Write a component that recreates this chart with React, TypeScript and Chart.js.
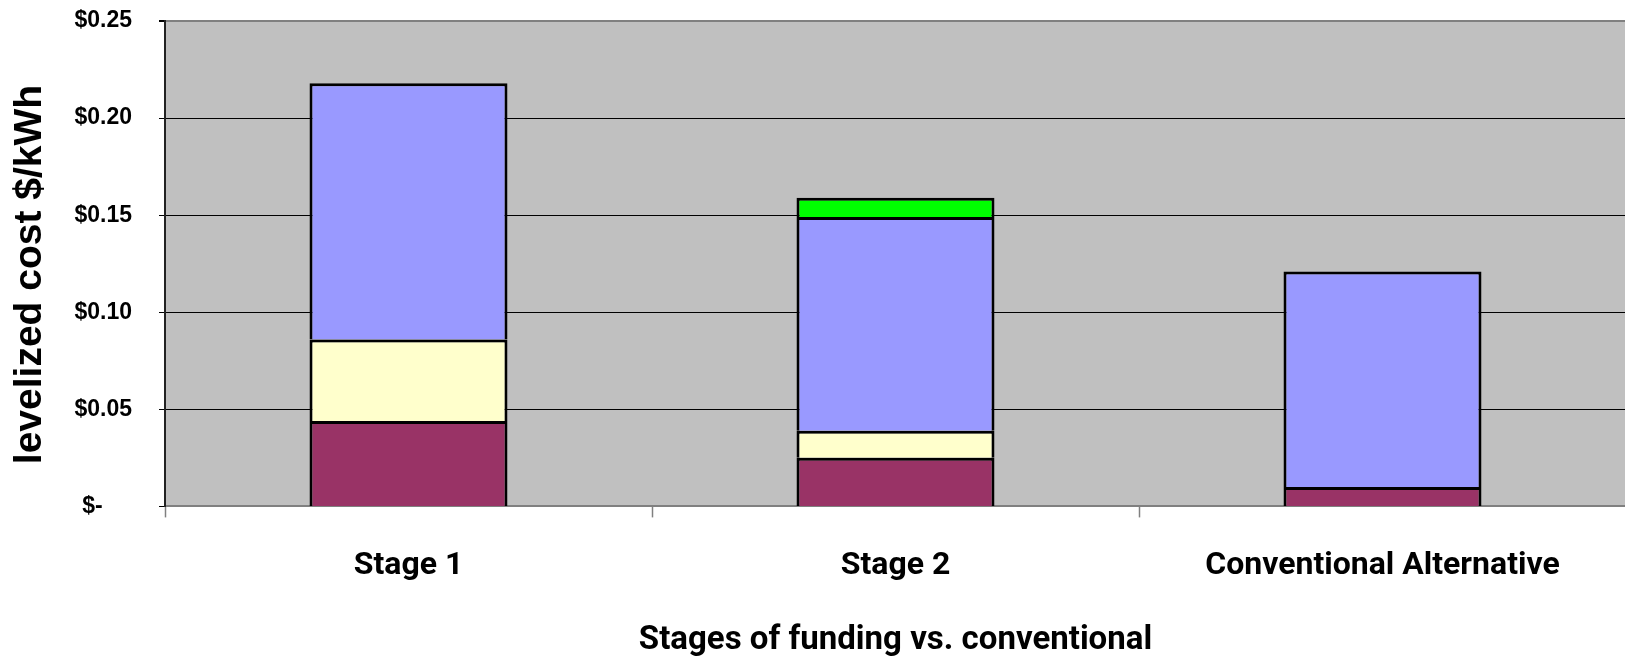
import React, { useEffect, useRef } from "react";
import { Chart, registerables } from "chart.js";

Chart.register(...registerables);

const categories = ["Stage 1", "Stage 2", "Conventional Alternative"];
const maroonValues = [0.044, 0.025, 0.01];
const yellowValues = [0.042, 0.014, null];
const blueValues = [0.132, 0.11, 0.111];
const greenValues = [null, 0.01, null];
const yTicks = [0, 0.05, 0.1, 0.15, 0.2, 0.25];

const yTitle = "levelized cost $/kWh";
const xTitle = "Stages of funding vs. conventional";

const NARROW = "Roboto, 'Liberation Sans', sans-serif";
const WIDE = "'Liberation Sans', Arial, sans-serif";

const plotBg = {
  id: "plotBg",
  beforeDraw(chart: any) {
    const { ctx, chartArea } = chart;
    ctx.save();
    ctx.fillStyle = "#C0C0C0";
    ctx.fillRect(chartArea.left, chartArea.top, chartArea.right - chartArea.left, chartArea.bottom - chartArea.top);
    ctx.restore();
  },
};

export default function App() {
  const ref = useRef<HTMLCanvasElement | null>(null);
  useEffect(() => {
    if (!ref.current) return;
    const ds = (label: string, data: any[], color: string) => ({
      label,
      data,
      backgroundColor: color,
      borderColor: "#000000",
      borderWidth: 3,
      barPercentage: 0.4066,
      categoryPercentage: 1,
    });
    const chart = new Chart(ref.current, {
      type: "bar",
      data: {
        labels: categories,
        datasets: [
          ds("Series 1", maroonValues, "#993366"),
          ds("Series 2", yellowValues, "#FFFFCC"),
          ds("Series 3", blueValues, "#9999FF"),
          ds("Series 4", greenValues, "#00FF00"),
        ],
      },
      options: {
        animation: false,
        responsive: true,
        maintainAspectRatio: false,
        layout: { padding: { top: 21, right: 0, left: 0, bottom: 0 } },
        plugins: {
          legend: { display: false },
          tooltip: { enabled: false },
          title: {
            display: true,
            position: "bottom",
            fullSize: false,
            text: xTitle,
            color: "#000",
            font: { family: NARROW, size: 33, weight: "bold" },
            padding: { top: 0, bottom: 3 },
          },
        },
        scales: {
          x: {
            stacked: true,
            afterFit: (s: any) => {
              s.height = 115;
              s.paddingLeft = 0;
              s.paddingRight = 88;
            },
            grid: {
              display: true,
              offset: true,
              drawOnChartArea: false,
              drawTicks: true,
              tickLength: 11,
              tickColor: "#808080",
              tickWidth: 1.5,
            },
            border: { display: true, color: "#808080", width: 2 },
            ticks: {
              color: "#000",
              padding: 29,
              font: { family: NARROW, size: 32, weight: "bold" },
              maxRotation: 0,
              autoSkip: false,
            },
          },
          y: {
            stacked: true,
            min: 0,
            max: 0.25,
            afterFit: (s: any) => {
              s.width = 165;
              s.paddingTop = 0;
              s.paddingBottom = 0;
            },
            afterBuildTicks: (s: any) => {
              s.ticks = yTicks.map((v) => ({ value: v }));
            },
            grid: {
              color: (c: any) => (c.tick && (c.tick.value === 0.25 || c.tick.value === 0) ? "#808080" : "#000000"),
              lineWidth: (c: any) => (c.tick && c.tick.value === 0.25 ? 2 : 1),
              tickLength: 6,
              tickColor: "#000000",
            },
            border: { display: true, color: "#222222", width: 2 },
            title: {
              display: true,
              text: yTitle + "  ",
              color: "#000",
              font: { family: WIDE, size: 39, weight: "bold" },
              padding: { top: 7, bottom: 0 },
            },
            ticks: {
              color: "#000",
              padding: 27,
              font: { family: WIDE, size: 23, weight: "bold" },
              callback: (v: any) => (Number(v) === 0 ? "$-\u2002\u2002 " : "$" + Number(v).toFixed(2)),
            },
          },
        },
      },
      plugins: [plotBg],
    });
    return () => chart.destroy();
  }, []);

  return (
    <div style={{ position: "fixed", left: 0, top: 0, width: 1625, height: 664, overflow: "hidden", background: "#fff" }}>
      <div style={{ position: "relative", width: 1714, height: 664 }}>
        <canvas ref={ref} />
      </div>
    </div>
  );
}
